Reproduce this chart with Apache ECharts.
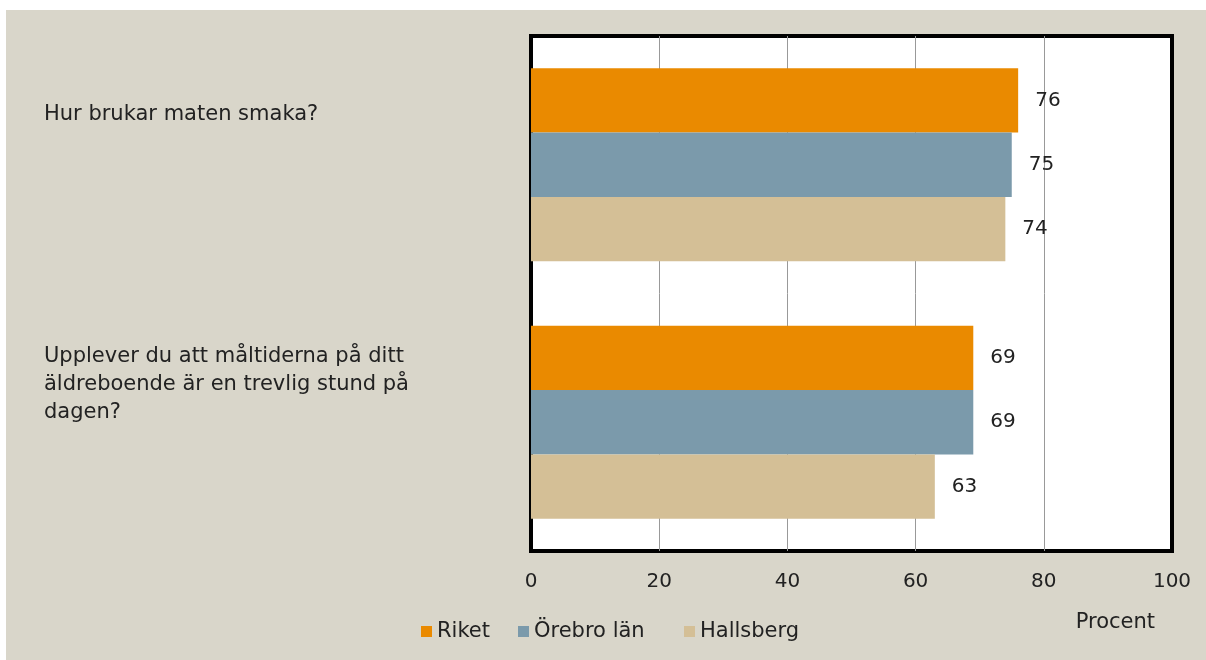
<!DOCTYPE html>
<html>
<head>
<meta charset="utf-8">
<script src="https://cdn.jsdelivr.net/npm/echarts@6/dist/echarts.min.js"></script>
<style>
  html, body { margin: 0; padding: 0; background: #ffffff; }
  #wrap { position: relative; width: 1206px; height: 660px; background: #ffffff; }
  #chart { position: absolute; left: 6px; top: 10px; width: 1200px; height: 650px; background: #D9D6CA; }
</style>
</head>
<body>
<div id="wrap"><div id="chart"></div></div>
<script>
var categories = [
  'Hur brukar maten smaka?',
  'Upplever du att måltiderna på ditt\näldreboende är en trevlig stund på\ndagen?'
];
var seriesNames = ['Riket', 'Örebro län', 'Hallsberg'];
var riket = [76, 69];
var orebro = [75, 69];
var hallsberg = [74, 63];
var xTicks = [0, 20, 40, 60, 80, 100];
var axisName = 'Procent';

var colors = ['#EA8A00', '#7B9AAB', '#D4BF96'];
var font = 'DejaVu Sans';
var dataSets = [riket, orebro, hallsberg];
var legendLefts = [415, 512, 678];

var chart = echarts.init(document.getElementById('chart'), null, { renderer: 'canvas' });
var option = {
  backgroundColor: 'transparent',
  animation: false,
  textStyle: { fontFamily: font },
  grid: {
    left: 525, right: 34, top: 26, bottom: 109,
    show: true, backgroundColor: '#ffffff', borderColor: '#000000', borderWidth: 4,
    containLabel: false
  },
  legend: seriesNames.map(function (n, i) {
    return {
      left: legendLefts[i], top: 611,
      padding: 0,
      itemWidth: 11, itemHeight: 11, itemGap: 0,
      icon: 'rect',
      selectedMode: false,
      textStyle: { fontSize: 21, color: '#222222', fontFamily: font },
      data: [n]
    };
  }),
  xAxis: {
    type: 'value',
    min: xTicks[0], max: xTicks[xTicks.length - 1], interval: xTicks[1] - xTicks[0],
    name: axisName,
    nameLocation: 'end',
    nameGap: 0,
    nameTextStyle: { fontSize: 21, color: '#222222', fontFamily: font, align: 'right', verticalAlign: 'top', padding: [61, 17, 0, 0] },
    axisLine: { show: false },
    axisTick: { show: false },
    axisLabel: { fontSize: 20, color: '#222222', margin: 21, fontFamily: font },
    splitLine: { show: true, showMinLine: false, showMaxLine: false, lineStyle: { color: '#999999', width: 1 } }
  },
  yAxis: {
    type: 'category',
    inverse: true,
    data: categories,
    axisLine: { show: false },
    axisTick: { show: false },
    axisLabel: { show: false },
    splitLine: { show: false }
  },
  series: seriesNames.map(function (n, i) {
    return {
      name: n,
      type: 'bar',
      data: dataSets[i],
      barGap: '0%',
      barCategoryGap: '25%',
      itemStyle: { color: colors[i] },
      label: { show: true, position: 'right', distance: 17, fontSize: 20, color: '#222222', fontFamily: font }
    };
  })
};
chart.setOption(option);

// Category labels placed at the category positions given by the y axis scale
var labelEls = categories.map(function (c, i) {
  var y = chart.convertToPixel({ yAxisIndex: 0 }, i);
  var lines = c.split('\n').length;
  return {
    type: 'text',
    left: 38,
    y: y - 14 - (42 - 6 * lines),
    style: {
      text: c,
      font: '21px "DejaVu Sans"',
      fill: '#222222',
      textVerticalAlign: 'middle',
      verticalAlign: 'middle',
      lineHeight: 28
    }
  };
});
chart.setOption({ graphic: labelEls });
</script>
</body>
</html>
